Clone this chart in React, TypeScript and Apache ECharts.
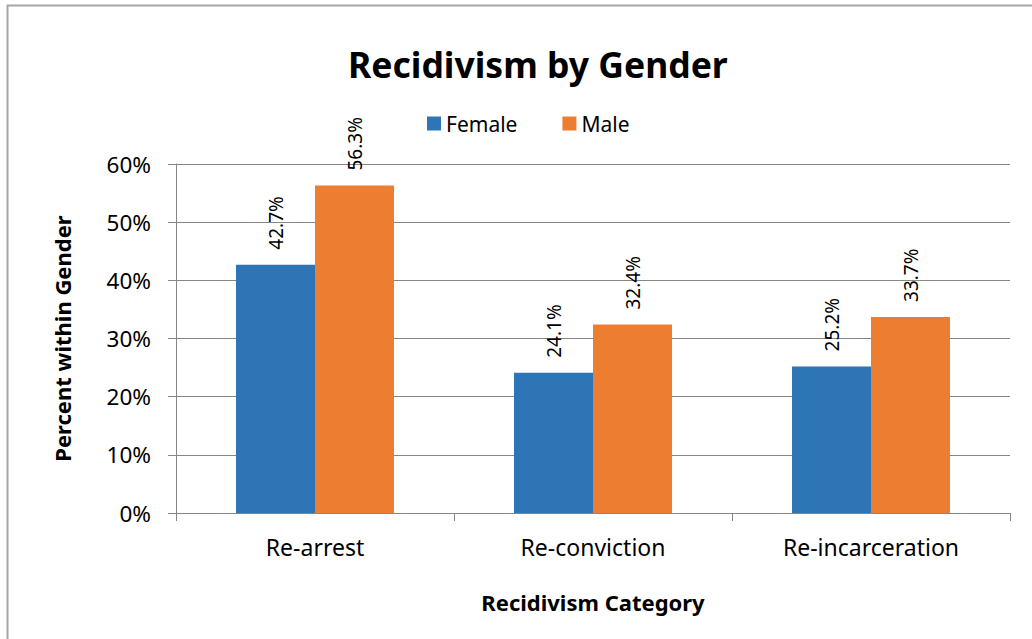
import React, { useEffect, useRef } from "react";
import * as echarts from "echarts";

const categories = ["Re-arrest", "Re-conviction", "Re-incarceration"];
const femaleValues = [42.7, 24.1, 25.2];
const maleValues = [56.3, 32.4, 33.7];
const yTicks = [0, 10, 20, 30, 40, 50, 60];

const FONT = "'Noto Sans', sans-serif";

export default function App() {
  const ref = useRef<HTMLDivElement>(null);
  useEffect(() => {
    document.body.style.margin = "0";
    const chart = echarts.init(ref.current!, null, { renderer: "svg" });
    const labelOpt = {
      show: true,
      position: "top",
      rotate: 90,
      align: "left",
      verticalAlign: "middle",
      distance: 15,
      fontSize: 19,
      fontFamily: FONT,
      color: "#000",
      formatter: (p: any) => p.value.toFixed(1) + "%",
    };
    chart.setOption({
      animation: false,
      backgroundColor: "#fff",
      textStyle: { fontFamily: FONT },
      title: {
        text: "Recidivism by Gender",
        left: 343,
        top: 41,
        textStyle: { fontSize: 35.5, fontWeight: "bold", color: "#000", fontFamily: FONT },
      },
      legend: {
        top: 108,
        left: 422,
        itemWidth: 14,
        itemHeight: 14,
        itemGap: 45,
        icon: "rect",
        textStyle: { fontSize: 21, color: "#000", fontFamily: FONT },
        data: ["Female", "Male"],
      },
      graphic: [
        {
          type: "rect",
          shape: { x: 7.5, y: 5.5, width: 1100, height: 700 },
          style: { fill: "none", stroke: "#a6a6a6", lineWidth: 2 },
          silent: true,
        },
      ],
      grid: { left: 176, right: 22, top: 164, bottom: 126 },
      xAxis: {
        type: "category",
        data: categories,
        name: "Recidivism Category",
        nameLocation: "middle",
        nameGap: 78,
        nameTextStyle: { fontSize: 22, fontWeight: "bold", color: "#000", fontFamily: FONT },
        axisLine: { lineStyle: { color: "#868686", width: 1 } },
        axisTick: { show: true, length: 8, interval: 0, lineStyle: { color: "#868686" } },
        axisLabel: { fontSize: 23, color: "#000", margin: 22, fontFamily: FONT },
      },
      yAxis: {
        type: "value",
        min: 0,
        max: 60,
        interval: 10,
        name: "Percent within Gender",
        nameLocation: "middle",
        nameGap: 103,
        nameTextStyle: {
          fontSize: 22,
          fontWeight: "bold",
          color: "#000",
          fontFamily: FONT,
          padding: [0, 0, 0, 0],
        },
        axisLine: { show: true, lineStyle: { color: "#868686", width: 1 } },
        axisTick: { show: true, length: 8, lineStyle: { color: "#868686" } },
        axisLabel: {
          fontSize: 22.5,
          color: "#000",
          margin: 25,
          fontFamily: FONT,
          formatter: (v: number) => (yTicks.includes(v) ? v + "%" : ""),
        },
        splitLine: { lineStyle: { color: "#868686", width: 1 } },
      },
      series: [
        {
          name: "Female",
          type: "bar",
          data: femaleValues,
          itemStyle: { color: "#2E75B6" },
          barWidth: 79,
          barGap: "0%",
          label: labelOpt,
        },
        {
          name: "Male",
          type: "bar",
          data: maleValues,
          itemStyle: { color: "#ED7D31" },
          barWidth: 79,
          barGap: "0%",
          label: labelOpt,
        },
      ],
    });
    return () => chart.dispose();
  }, []);
  return <div ref={ref} style={{ width: 1032, height: 639 }} />;
}
